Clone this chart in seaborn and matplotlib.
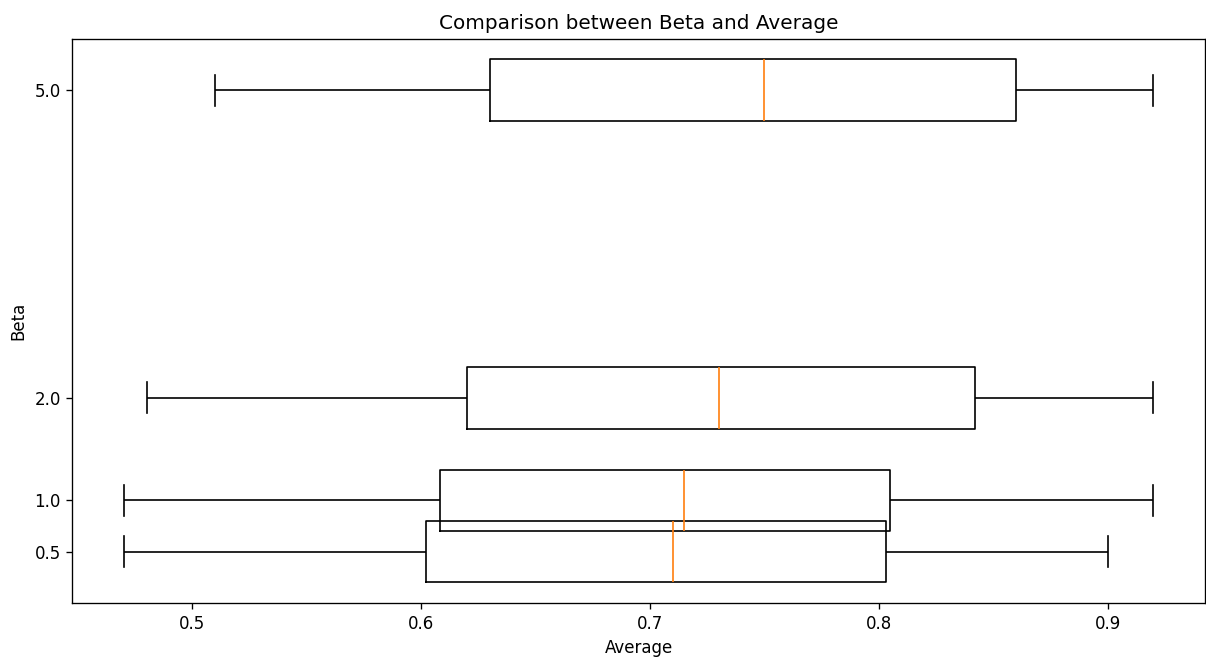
import numpy as np
import pandas as pd
import seaborn as sns
import matplotlib.pyplot as plt

# five-number summaries (low whisker, Q1, median, Q3, high whisker)
betas = [0.5, 1.0, 2.0, 5.0]
low = [0.470, 0.470, 0.480, 0.510]
q1 = [0.602, 0.608, 0.620, 0.630]
med = [0.710, 0.715, 0.730, 0.750]
q3 = [0.803, 0.805, 0.842, 0.860]
high = [0.900, 0.920, 0.920, 0.920]

# five points per group give exactly these quartiles with linear percentiles
rows = []
for i, b in enumerate(betas):
    for v in (low[i], q1[i], med[i], q3[i], high[i]):
        rows.append({"Beta": b, "Average": v})
df = pd.DataFrame(rows)

fig, ax = plt.subplots(figsize=(10.05, 5.4917), dpi=120)
fig.subplots_adjust(left=0.06, right=0.999, top=0.941, bottom=0.085)

sns.boxplot(
    data=df, x="Average", y="Beta", orient="y", native_scale=True,
    width=1.2, fill=False, color="black", linewidth=1, whis=np.inf,
    medianprops={"color": "#ff7f0e"},
    ax=ax,
)

ax.set_ylim(0.0, 5.5)
ax.set_yticks(betas)
ax.set_yticklabels([f"{b:.1f}" for b in betas])
ax.set_xticks([0.5, 0.6, 0.7, 0.8, 0.9])
ax.set_xlabel("Average")
ax.set_ylabel("Beta")
ax.set_title("Comparison between Beta and Average")

plt.savefig("out.png", dpi=120)
